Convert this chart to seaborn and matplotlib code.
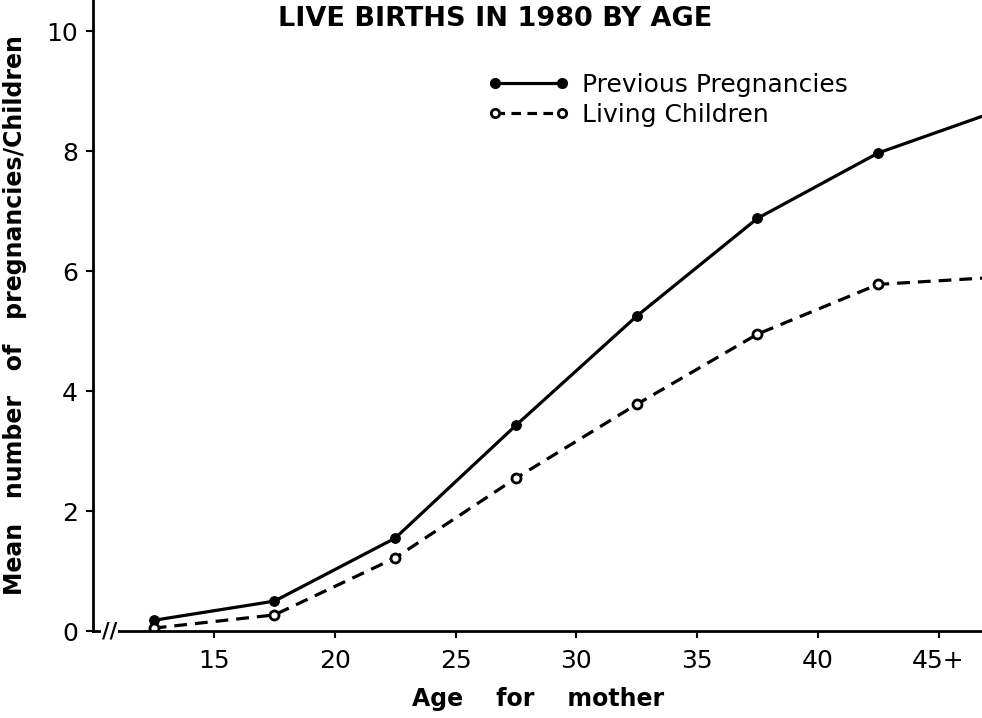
import seaborn as sns
import pandas as pd
import matplotlib.pyplot as plt
from matplotlib.lines import Line2D

# age group midpoints (last group 45+ runs off the right edge)
ages = [12.5, 17.5, 22.5, 27.5, 32.5, 37.5, 42.5, 47.5]
prev_pregnancies = [0.18, 0.50, 1.55, 3.43, 5.25, 6.88, 7.97, 8.68]
living_children = [0.05, 0.27, 1.22, 2.55, 3.78, 4.95, 5.78, 5.90]

x_ticks = [15, 20, 25, 30, 35, 40, 45]
x_tick_labels = ["15", "20", "25", "30", "35", "40", "45+"]
y_ticks = [0, 2, 4, 6, 8, 10]

df = pd.DataFrame({"age": ages, "prev": prev_pregnancies, "living": living_children})

sns.set_theme(style="white")
plt.rcParams["font.family"] = ["DejaVu Sans"]
plt.rcParams["text.color"] = "black"
plt.rcParams["axes.labelcolor"] = "black"

fig = plt.figure(figsize=(9.82, 7.18), dpi=100)
ax = fig.add_axes([0.095, 0.121, 0.905, 0.879])

sns.lineplot(data=df, x="age", y="prev", ax=ax, color="black", linewidth=2.3,
             marker="o", markersize=7, markerfacecolor="black",
             markeredgecolor="black")
sns.lineplot(data=df, x="age", y="living", ax=ax, color="black", linewidth=2.3,
             linestyle=(0, (4, 2.5)), marker="o", markersize=6.5,
             markerfacecolor="white", markeredgecolor="black",
             markeredgewidth=2)

# styling
ax.set_xlim(10, 46.8)
ax.set_ylim(0, 10.52)
ax.set_xticks(x_ticks)
ax.set_xticklabels(x_tick_labels)
ax.set_yticks(y_ticks)
ax.tick_params(axis="both", direction="out", length=5, width=1.5,
               labelsize=18, colors="black", pad=6, bottom=True, left=True)
ax.tick_params(axis="x", pad=8)

for side in ["top", "right"]:
    ax.spines[side].set_visible(False)
for side in ["left", "bottom"]:
    ax.spines[side].set_color("black")
    ax.spines[side].set_linewidth(2)

ax.set_xlabel("Age    for    mother", fontsize=17, fontweight="bold",
              labelpad=10)
ax.set_ylabel("Mean   number   of   pregnancies/Children", fontsize=17,
              fontweight="bold", labelpad=14)

# axis break marks near the origin
ax.text(0.018, 0.0, "//", transform=ax.transAxes, fontsize=15,
        fontweight="bold", ha="center", va="center",
        bbox=dict(facecolor="white", edgecolor="none", pad=0.5))

fig.text(0.504, 0.974, "LIVE BIRTHS IN 1980 BY AGE", ha="center", va="center",
         fontsize=19.5, fontweight="bold")

handles = [
    Line2D([], [], color="black", linewidth=2.3, marker="o", markersize=7,
           markerfacecolor="black"),
    Line2D([], [], color="black", linewidth=2.3, linestyle=(0, (3, 2)),
           marker="o", markersize=6, markerfacecolor="white",
           markeredgewidth=2),
]
ax.legend(handles, ["Previous Pregnancies", "Living Children"],
          loc="upper left", bbox_to_anchor=(0.418, 0.92), frameon=False,
          fontsize=18, handlelength=3.3, handletextpad=0.5, labelspacing=0.25,
          numpoints=2, markerfirst=True)

fig.savefig("out.png", dpi=100)
